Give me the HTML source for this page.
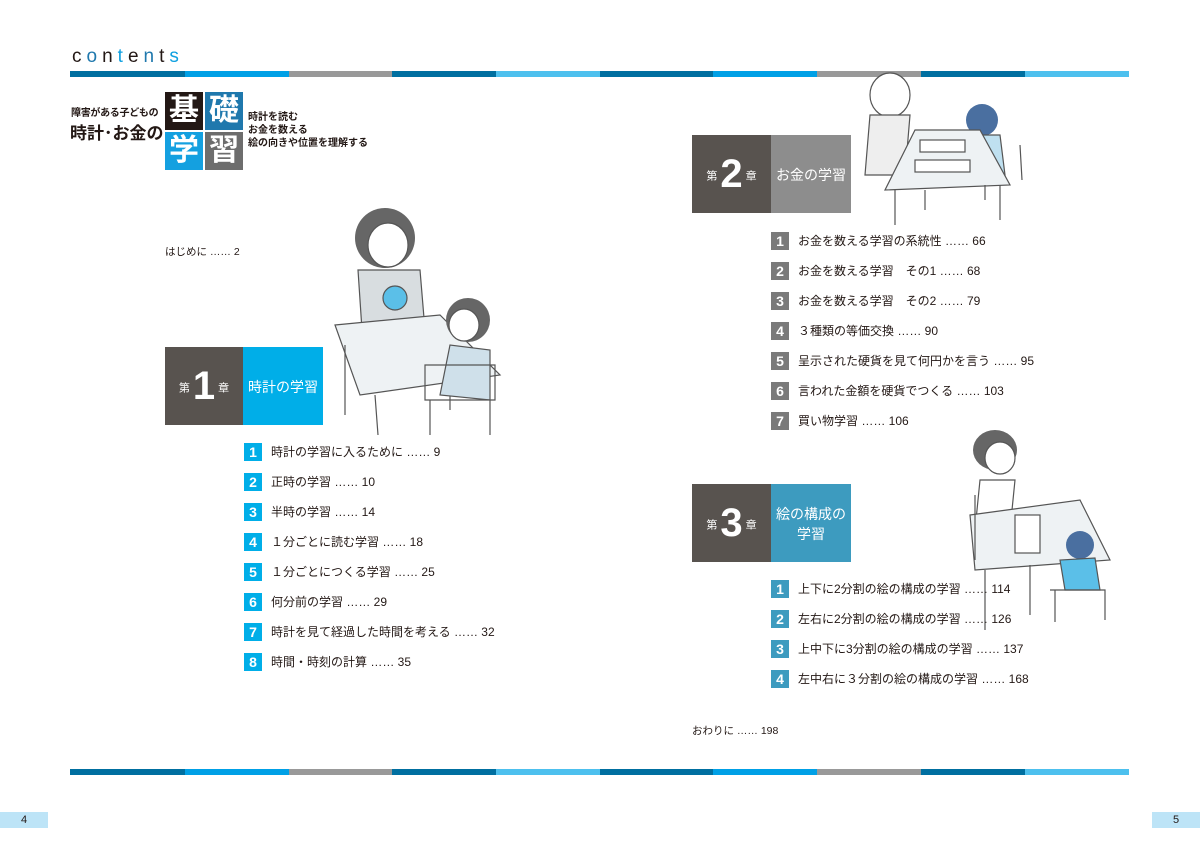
<!DOCTYPE html>
<html><head><meta charset="utf-8"><style>
body{margin:0;width:1200px;height:848px;background:#fff;position:relative;overflow:hidden;font-family:"Liberation Sans","Noto Sans CJK JP",sans-serif;color:#231815}
.a{position:absolute}
.bar{position:absolute;height:6px}
.sq{position:absolute;width:18px;height:18px;color:#fff;font-weight:bold;font-size:14px;line-height:18px;text-align:center}
.it{position:absolute;font-size:12px;line-height:18px;white-space:nowrap}
.k{position:absolute;width:38px;height:38px;color:#fff;font-size:30px;font-weight:bold;line-height:38px;text-align:center}
.ch{position:absolute;color:#fff;text-align:center}
</style></head><body>
<div class="a" style="left:72px;top:46px;font-size:19px;letter-spacing:5px;color:#231815">c<span style="color:#1f78ad">o</span>n<span style="color:#0fa0e0">t</span>e<span style="color:#1f78ad">n</span>t<span style="color:#0fa0e0">s</span></div>

<div class="bar" style="top:71px;left:70px;width:115px;background:#006fa0"></div>
<div class="bar" style="top:71px;left:185px;width:104px;background:#00a0e6"></div>
<div class="bar" style="top:71px;left:289px;width:103px;background:#999"></div>
<div class="bar" style="top:71px;left:392px;width:104px;background:#006fa0"></div>
<div class="bar" style="top:71px;left:496px;width:104px;background:#4dc0ee"></div>
<div class="bar" style="top:71px;left:600px;width:113px;background:#006fa0"></div>
<div class="bar" style="top:71px;left:713px;width:104px;background:#00a0e6"></div>
<div class="bar" style="top:71px;left:817px;width:104px;background:#999"></div>
<div class="bar" style="top:71px;left:921px;width:104px;background:#006fa0"></div>
<div class="bar" style="top:71px;left:1025px;width:104px;background:#4dc0ee"></div>

<div class="bar" style="top:769px;left:70px;width:115px;background:#006fa0"></div>
<div class="bar" style="top:769px;left:185px;width:104px;background:#00a0e6"></div>
<div class="bar" style="top:769px;left:289px;width:103px;background:#999"></div>
<div class="bar" style="top:769px;left:392px;width:104px;background:#006fa0"></div>
<div class="bar" style="top:769px;left:496px;width:104px;background:#4dc0ee"></div>
<div class="bar" style="top:769px;left:600px;width:113px;background:#006fa0"></div>
<div class="bar" style="top:769px;left:713px;width:104px;background:#00a0e6"></div>
<div class="bar" style="top:769px;left:817px;width:104px;background:#999"></div>
<div class="bar" style="top:769px;left:921px;width:104px;background:#006fa0"></div>
<div class="bar" style="top:769px;left:1025px;width:104px;background:#4dc0ee"></div>

<div class="a" style="left:0;top:812px;width:48px;height:16px;background:#bde4f7;font-size:11px;line-height:16px;text-align:center">4</div>
<div class="a" style="left:1152px;top:812px;width:48px;height:16px;background:#bde4f7;font-size:11px;line-height:16px;text-align:center">5</div>

<div class="a" style="left:71px;top:104px;font-size:10px;font-weight:bold;letter-spacing:-0.3px">障害がある子どもの</div>
<div class="a" style="left:70px;top:119px;font-size:17px;font-weight:bold">時計･お金の</div>
<div class="k" style="left:165px;top:92px;background:#231815">基</div>
<div class="k" style="left:205px;top:92px;background:#1f78ad">礎</div>
<div class="k" style="left:165px;top:132px;background:#14a0e0">学</div>
<div class="k" style="left:205px;top:132px;background:#6d6d6d">習</div>
<div class="a" style="left:248px;top:111px;font-size:10px;line-height:13px;font-weight:bold">時計を読む<br>お金を数える<br>絵の向きや位置を理解する</div>

<div class="it" style="left:165px;top:243px;font-size:10.5px">はじめに …… 2</div>

<!-- Chapter 1 -->
<div class="a" style="left:165px;top:347px;width:78px;height:78px;background:#58534f"></div>
<div class="ch" style="left:165px;top:364px;width:78px;font-size:40px;font-weight:bold;line-height:44px"><span style="font-size:11px;vertical-align:middle;font-weight:normal">第 </span>1<span style="font-size:11px;vertical-align:middle;font-weight:normal"> 章</span></div>
<div class="a" style="left:243px;top:347px;width:80px;height:78px;background:#00aee8"></div>
<div class="ch" style="left:243px;top:377px;width:80px;font-size:14px">時計の学習</div>

<div class="sq" style="left:244px;top:443px;background:#00aee8">1</div><div class="it" style="left:271px;top:443px">時計の学習に入るために …… 9</div>
<div class="sq" style="left:244px;top:473px;background:#00aee8">2</div><div class="it" style="left:271px;top:473px">正時の学習 …… 10</div>
<div class="sq" style="left:244px;top:503px;background:#00aee8">3</div><div class="it" style="left:271px;top:503px">半時の学習 …… 14</div>
<div class="sq" style="left:244px;top:533px;background:#00aee8">4</div><div class="it" style="left:271px;top:533px">１分ごとに読む学習 …… 18</div>
<div class="sq" style="left:244px;top:563px;background:#00aee8">5</div><div class="it" style="left:271px;top:563px">１分ごとにつくる学習 …… 25</div>
<div class="sq" style="left:244px;top:593px;background:#00aee8">6</div><div class="it" style="left:271px;top:593px">何分前の学習 …… 29</div>
<div class="sq" style="left:244px;top:623px;background:#00aee8">7</div><div class="it" style="left:271px;top:623px">時計を見て経過した時間を考える …… 32</div>
<div class="sq" style="left:244px;top:653px;background:#00aee8">8</div><div class="it" style="left:271px;top:653px">時間・時刻の計算 …… 35</div>

<!-- Chapter 2 -->
<div class="a" style="left:692px;top:135px;width:79px;height:78px;background:#58534f"></div>
<div class="ch" style="left:692px;top:152px;width:79px;font-size:40px;font-weight:bold;line-height:44px"><span style="font-size:11px;vertical-align:middle;font-weight:normal">第 </span>2<span style="font-size:11px;vertical-align:middle;font-weight:normal"> 章</span></div>
<div class="a" style="left:771px;top:135px;width:80px;height:78px;background:#8d8d8d"></div>
<div class="ch" style="left:771px;top:165px;width:80px;font-size:14px">お金の学習</div>

<div class="sq" style="left:771px;top:232px;background:#7a7a7a">1</div><div class="it" style="left:798px;top:232px">お金を数える学習の系統性 …… 66</div>
<div class="sq" style="left:771px;top:262px;background:#7a7a7a">2</div><div class="it" style="left:798px;top:262px">お金を数える学習　その1 …… 68</div>
<div class="sq" style="left:771px;top:292px;background:#7a7a7a">3</div><div class="it" style="left:798px;top:292px">お金を数える学習　その2 …… 79</div>
<div class="sq" style="left:771px;top:322px;background:#7a7a7a">4</div><div class="it" style="left:798px;top:322px">３種類の等価交換 …… 90</div>
<div class="sq" style="left:771px;top:352px;background:#7a7a7a">5</div><div class="it" style="left:798px;top:352px">呈示された硬貨を見て何円かを言う …… 95</div>
<div class="sq" style="left:771px;top:382px;background:#7a7a7a">6</div><div class="it" style="left:798px;top:382px">言われた金額を硬貨でつくる …… 103</div>
<div class="sq" style="left:771px;top:412px;background:#7a7a7a">7</div><div class="it" style="left:798px;top:412px">買い物学習 …… 106</div>

<!-- Chapter 3 -->
<div class="a" style="left:692px;top:484px;width:79px;height:78px;background:#58534f"></div>
<div class="ch" style="left:692px;top:501px;width:79px;font-size:40px;font-weight:bold;line-height:44px"><span style="font-size:11px;vertical-align:middle;font-weight:normal">第 </span>3<span style="font-size:11px;vertical-align:middle;font-weight:normal"> 章</span></div>
<div class="a" style="left:771px;top:484px;width:80px;height:78px;background:#3d9bbf"></div>
<div class="ch" style="left:771px;top:504px;width:80px;font-size:14px;line-height:20px">絵の構成の<br>学習</div>

<div class="sq" style="left:771px;top:580px;background:#3d9bbf">1</div><div class="it" style="left:798px;top:580px">上下に2分割の絵の構成の学習 …… 114</div>
<div class="sq" style="left:771px;top:610px;background:#3d9bbf">2</div><div class="it" style="left:798px;top:610px">左右に2分割の絵の構成の学習 …… 126</div>
<div class="sq" style="left:771px;top:640px;background:#3d9bbf">3</div><div class="it" style="left:798px;top:640px">上中下に3分割の絵の構成の学習 …… 137</div>
<div class="sq" style="left:771px;top:670px;background:#3d9bbf">4</div><div class="it" style="left:798px;top:670px">左中右に３分割の絵の構成の学習 …… 168</div>

<div class="it" style="left:692px;top:722px;font-size:10.5px">おわりに …… 198</div>

<svg class="a" style="left:0;top:0" width="1200" height="848" fill="none" stroke="#555" stroke-width="1.2">
 <ellipse cx="385" cy="238" rx="30" ry="30" fill="#666" stroke="none"/>
 <ellipse cx="388" cy="245" rx="20" ry="22" fill="#fff"/>
 <path d="M358 270 L362 330 L425 330 L420 270 Z" fill="#d8dde0"/>
 <circle cx="395" cy="298" r="12" fill="#5bbfe8"/>
 <path d="M335 325 L440 315 L500 375 L360 395 Z" fill="#eef2f4"/>
 <path d="M345 345 L345 415 M375 395 L378 435 M450 375 L450 410"/>
 <ellipse cx="468" cy="320" rx="22" ry="22" fill="#666" stroke="none"/>
 <ellipse cx="464" cy="325" rx="15" ry="16" fill="#fff"/>
 <path d="M450 345 L440 395 L490 400 L490 350 Z" fill="#cfe0ea"/>
 <path d="M425 365 L495 365 L495 400 L425 400 Z M430 400 L430 435 M490 400 L490 435"/>
 <ellipse cx="890" cy="95" rx="20" ry="22" fill="#fff"/>
 <path d="M870 115 L865 175 L905 175 L910 115 Z" fill="#eee"/>
 <circle cx="982" cy="120" r="16" fill="#4a6fa0" stroke="none"/>
 <path d="M970 135 L965 175 L1005 175 L1000 135 Z" fill="#bfe0f0"/>
 <path d="M915 130 L980 130 L1010 185 L885 190 Z" fill="#eef2f4"/>
 <rect x="920" y="140" width="45" height="12" fill="#fff"/>
 <rect x="915" y="160" width="55" height="12" fill="#fff"/>
 <path d="M895 190 L895 225 M1000 185 L1000 220 M925 190 L925 210 M985 185 L985 200 M1020 145 L1022 180"/>
 <ellipse cx="995" cy="450" rx="22" ry="20" fill="#666" stroke="none"/>
 <ellipse cx="1000" cy="458" rx="15" ry="16" fill="#fff"/>
 <path d="M980 480 L975 530 L1010 530 L1015 480 Z" fill="#fff"/>
 <path d="M970 515 L1080 500 L1110 560 L975 570 Z" fill="#eef2f4"/>
 <rect x="1015" y="515" width="25" height="38" fill="#fff"/>
 <path d="M985 570 L985 630 M1030 565 L1030 615 M975 495 L975 560"/>
 <circle cx="1080" cy="545" r="14" fill="#4a6fa0" stroke="none"/>
 <path d="M1060 560 L1065 590 L1100 590 L1095 558 Z" fill="#5bbfe8"/>
 <path d="M1050 590 L1105 590 L1105 620 M1055 590 L1055 622"/>
</svg>
</body></html>
